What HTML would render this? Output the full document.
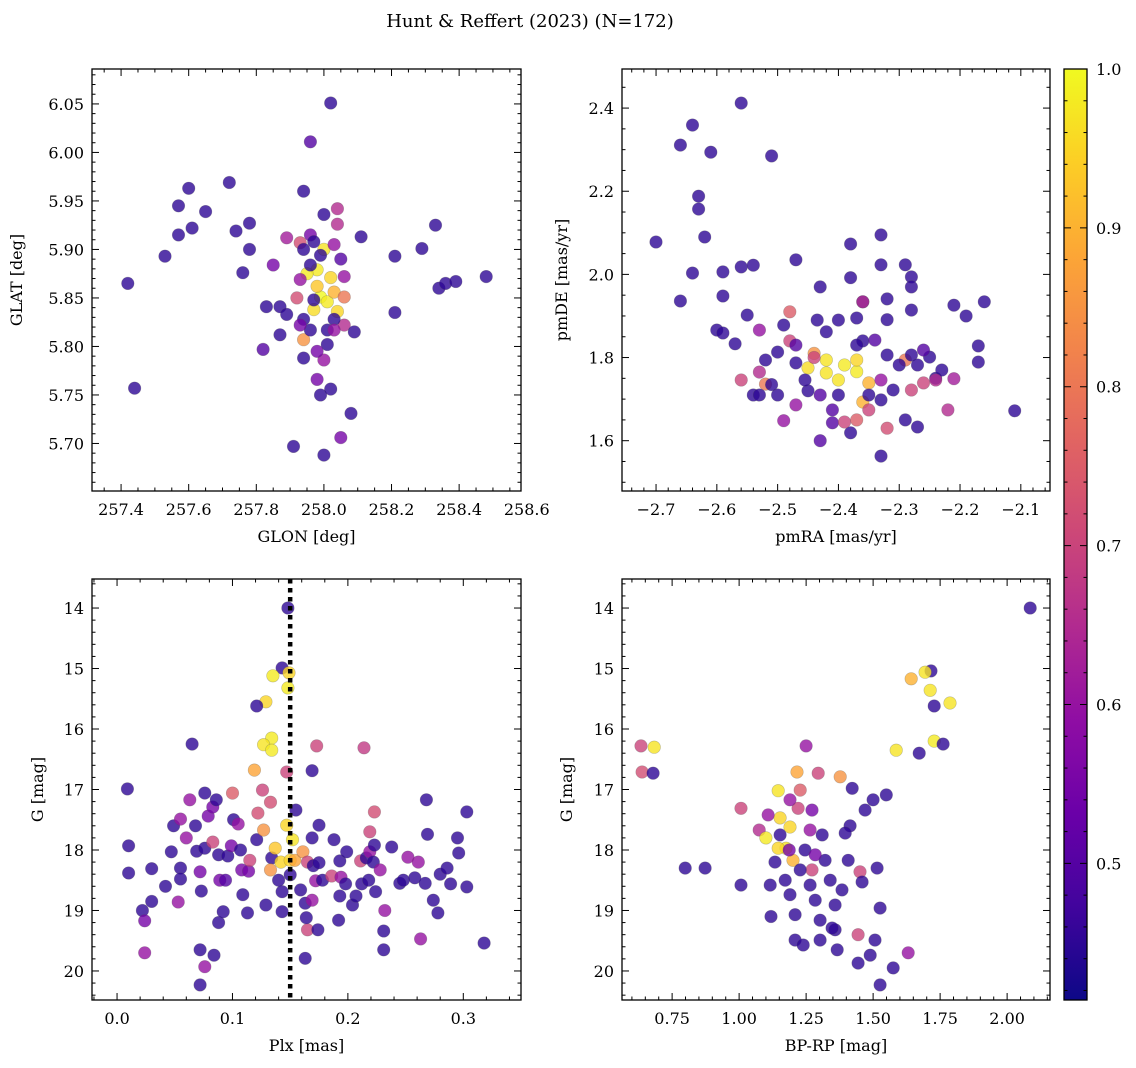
<!DOCTYPE html>
<html><head><meta charset="utf-8">
<style>
html,body{margin:0;padding:0;background:#fff;}
svg{display:block;font-family:"DejaVu Serif","Liberation Serif",serif;}
</style></head>
<body>
<svg id="fig" width="1136" height="1068" viewBox="0 0 1136 1068" xmlns="http://www.w3.org/2000/svg">
<text x="530" y="27" font-size="18" text-anchor="middle">Hunt &amp; Reffert (2023) (N=172)</text>
</svg>
<script>
// Panel 1: GLON, GLAT, probability
const p1Lon=[257.42,257.44,257.53,257.57,257.57,257.60,257.61,257.65,257.72,257.74,257.76,257.78,257.78,257.82,257.83,257.87,257.87,257.85,257.89,257.89,257.94,257.91,257.92,257.93,257.94,257.96,258.00,257.99,258.02,258.00,257.98,258.02,258.04,258.04,258.05,258.08,258.06,258.06,258.09,258.11,258.21,258.21,258.29,258.34,258.36,258.39,258.33,258.48,
258.00,257.98,258.02,257.99,258.01,257.97,258.04,257.98,257.95,258.03,258.06,257.94,
257.94,257.97,258.01,258.01,257.96,258.03,257.96,257.99,257.94,257.96,257.93,258.05,258.03,257.93,257.97,258.00,257.98,258.03];
const p1Lat=[5.865,5.757,5.893,5.915,5.945,5.963,5.922,5.939,5.969,5.919,5.876,5.927,5.900,5.797,5.841,5.841,5.812,5.884,5.912,5.833,5.960,5.697,5.850,5.907,5.788,6.011,5.688,5.750,6.051,5.936,5.766,5.756,5.926,5.942,5.706,5.731,5.872,5.822,5.815,5.913,5.835,5.893,5.901,5.860,5.865,5.867,5.925,5.872,
5.900,5.879,5.871,5.851,5.846,5.838,5.836,5.862,5.875,5.856,5.851,5.807,
5.828,5.848,5.802,5.817,5.817,5.828,5.884,5.894,5.900,5.915,5.822,5.890,5.905,5.869,5.908,5.786,5.795,5.817];
const p1Prob=[.45,.45,.45,.45,.45,.45,.45,.45,.45,.45,.45,.45,.45,.5,.45,.45,.45,.55,.62,.45,.45,.45,.72,.72,.45,.5,.45,.45,.45,.45,.55,.45,.65,.65,.55,.45,.6,.65,.45,.45,.45,.45,.45,.45,.45,.45,.45,.45,
.97,.98,.95,1,.98,.96,.95,.93,.98,.9,.8,.85,
.45,.45,.45,.45,.45,.45,.45,.45,.45,.55,.55,.5,.6,.6,.45,.6,.55,.6];

// Panel 2: pmRA, pmDE
const p2Ra=[-2.70,-2.66,-2.64,-2.56,-2.63,-2.63,-2.62,-2.61,-2.66,-2.64,-2.59,-2.59,-2.51,-2.56,-2.54,-2.60,-2.59,-2.57,-2.55,-2.47,-2.38,-2.33,-2.33,-2.29,-2.28,-2.28,-2.21,-2.16,-2.19,-2.17,-2.17,-2.11,-2.33,-2.38,-2.43,-2.41,-2.27,-2.29,-2.49,-2.45,-2.36,-2.42,-2.43,-2.38,-2.36,-2.32,-2.32,-2.28,-2.25,-2.24,-2.23,
-2.42,-2.39,-2.40,-2.37,-2.45,-2.37,-2.42,-2.36,-2.35,-2.44,
-2.48,-2.44,-2.53,-2.52,-2.47,-2.56,-2.39,-2.32,-2.28,-2.24,-2.22,-2.21,-2.36,-2.48,-2.53,-2.29,-2.26,-2.35,-2.37,-2.33,
-2.54,-2.52,-2.50,-2.47,-2.47,-2.455,-2.50,-2.43,-2.40,-2.35,-2.33,-2.30,-2.28,-2.26,-2.27,-2.31,-2.32,-2.34,-2.37,-2.40,-2.435,-2.49,-2.53,-2.51,-2.41,-2.37];
const p2De=[2.078,2.311,2.359,2.412,2.188,2.157,2.09,2.294,1.936,2.003,2.006,1.948,2.285,2.018,2.022,1.866,1.859,1.833,1.902,2.035,2.073,2.095,2.023,2.023,1.994,1.97,1.926,1.934,1.9,1.828,1.789,1.672,1.563,1.619,1.6,1.643,1.633,1.65,1.648,1.72,1.84,1.862,1.97,1.992,1.934,1.941,1.891,1.914,1.801,1.75,1.77,
1.794,1.782,1.746,1.766,1.775,1.794,1.763,1.693,1.739,1.81,
1.84,1.80,1.765,1.736,1.686,1.746,1.645,1.63,1.722,1.746,1.674,1.749,1.934,1.91,1.866,1.794,1.739,1.674,1.65,1.746,
1.71,1.794,1.813,1.83,1.787,1.746,1.71,1.71,1.71,1.71,1.698,1.782,1.806,1.818,1.782,1.722,1.806,1.842,1.895,1.89,1.89,1.878,1.71,1.735,1.674,1.83];
const p2Prob=[.45,.45,.45,.45,.45,.45,.45,.45,.45,.45,.45,.45,.45,.45,.45,.45,.45,.45,.45,.45,.45,.45,.45,.45,.45,.45,.45,.45,.45,.45,.45,.45,.45,.45,.5,.5,.45,.45,.6,.45,.45,.45,.45,.45,.45,.45,.45,.45,.45,.45,.45,
.97,.98,.97,.98,.96,.95,.97,.9,.9,.85,
.7,.7,.65,.8,.6,.7,.7,.72,.7,.65,.65,.62,.65,.75,.6,.8,.7,.7,.75,.6,
.45,.45,.45,.5,.45,.45,.45,.5,.45,.45,.45,.45,.45,.5,.45,.45,.45,.5,.45,.45,.45,.45,.45,.45,.5,.45];

// Panel 3: Plx, G
const p3Plx=[.148,.143,.149,.135,.148,.129,.121,.065,.134,.127,.134,.147,.119,.169,.009,.173,.214,.010,.010,.022,.024,.030,.024,.030,.042,.047,.049,.055,.055,.060,.053,.055,.063,.069,.068,.073,.072,.076,.079,.083,.083,.086,.076,.088,.089,.076,.072,.072,.084,.088,.092,.094,.096,.099,.101,.100,.105,.107,.108,.109,.113,.114,.115,.121,.122,.127,.126,.133,.129,.134,.133,.137,.142,.140,.143,.150,.152,.147,.155,.143,.154,.150,.161,.159,.165,.163,.169,.170,.172,.175,.175,.163,.165,.164,.169,.174,.178,.186,.188,.193,.193,.194,.199,.198,.204,.207,.192,.211,.212,.216,.219,.219,.223,.223,.222,.224,.218,.228,.232,.238,.245,.231,.231,.252,.248,.258,.261,.268,.269,.263,.267,.274,.280,.289,.278,.286,.295,.303,.303,.296,.318];
const p3G=[14.0,14.99,15.07,15.12,15.32,15.55,15.62,16.25,16.15,16.26,16.35,16.71,16.68,16.69,16.99,16.28,16.31,17.93,18.38,19.0,19.17,18.85,19.7,18.31,18.6,18.03,17.6,17.49,18.3,17.8,18.86,18.48,17.17,18.02,17.6,18.68,18.36,17.97,17.44,17.87,17.29,17.17,17.06,18.08,18.5,19.93,20.23,19.65,19.74,19.2,19.02,18.5,18.1,17.93,17.5,17.06,17.57,18.0,18.33,18.74,19.04,18.35,18.17,17.83,17.39,17.67,17.01,17.21,18.91,18.13,18.33,17.97,18.2,18.5,18.69,18.17,17.83,17.59,17.34,19.02,18.17,18.41,18.03,18.66,18.2,18.88,17.8,18.26,18.51,17.59,18.21,19.79,19.32,19.12,18.83,19.32,18.5,18.43,17.83,18.18,18.76,18.45,18.03,18.56,18.91,18.76,19.16,18.18,18.56,18.13,18.03,17.7,17.37,17.92,18.2,18.69,18.5,18.33,19.0,17.95,18.55,19.34,19.65,18.12,18.5,18.46,18.2,17.17,17.74,19.47,18.55,18.83,18.4,18.56,19.04,18.3,17.8,18.61,17.37,18.05,19.54];
const p3Prob=[.45,.45,.95,.98,.98,.95,.45,.45,.98,.97,.98,.7,.88,.45,.45,.7,.68,.45,.45,.45,.55,.45,.6,.45,.45,.45,.45,.6,.45,.6,.6,.45,.6,.45,.45,.45,.55,.45,.55,.7,.55,.45,.45,.45,.55,.6,.45,.45,.45,.45,.45,.5,.45,.55,.45,.75,.6,.45,.55,.45,.45,.55,.7,.45,.72,.85,.7,.72,.45,.45,.85,.93,.95,.45,.45,.95,.97,.95,.45,.45,.88,.45,.85,.45,.7,.45,.45,.45,.6,.45,.45,.45,.7,.45,.6,.45,.45,.7,.45,.45,.45,.6,.45,.45,.45,.45,.45,.7,.45,.45,.6,.7,.72,.45,.45,.45,.45,.6,.6,.45,.45,.45,.45,.6,.45,.45,.6,.45,.45,.6,.45,.45,.45,.45,.45,.45,.45,.45,.45,.45,.45];

// Panel 4: BP-RP, G
const p4Col=[2.086,1.716,1.694,1.713,1.728,1.787,1.642,1.586,1.728,1.761,1.672,1.549,1.422,1.5,1.47,1.414,1.396,.634,.683,.638,.679,.799,.873,1.007,1.007,1.075,1.119,
1.146,1.153,1.19,1.1,1.175,1.201,1.146,1.216,1.377,1.295,1.25,1.228,1.22,1.265,1.272,1.451,1.444,
1.153,1.134,1.116,1.172,1.19,1.209,1.228,1.246,1.265,1.284,1.302,1.321,1.34,1.358,1.358,1.384,1.209,1.239,1.302,1.347,1.407,1.459,1.515,1.526,1.507,1.489,1.526,1.575,1.444,1.366,1.631,1.187,1.284,1.19,1.108,1.272,1.31];
const p4G=[14.0,15.04,15.06,15.36,15.62,15.57,15.17,16.35,16.2,16.25,16.4,17.09,16.98,17.17,17.34,17.6,17.72,16.28,16.3,16.71,16.73,18.3,18.3,17.31,18.58,17.67,19.1,
17.02,17.47,17.62,17.8,17.97,18.17,17.97,16.71,16.79,16.73,16.28,17.01,17.31,17.67,18.33,18.36,19.4,
17.75,18.2,18.58,18.5,18.74,19.07,18.33,18.0,18.58,18.83,19.16,18.17,18.5,18.91,19.32,18.66,19.49,19.57,19.49,19.29,18.17,18.53,18.3,18.96,19.49,19.74,20.23,19.95,19.87,19.65,19.7,18.0,18.08,17.17,17.42,17.34,17.75];
const p4Prob=[.45,.45,.97,.97,.45,.97,.9,.97,.98,.45,.45,.45,.45,.45,.45,.45,.45,.7,.97,.72,.45,.45,.45,.7,.45,.65,.45,
.97,.95,.95,.98,.97,.9,.95,.88,.85,.7,.6,.75,.7,.6,.7,.7,.7,
.45,.45,.45,.45,.45,.45,.45,.45,.45,.45,.45,.45,.45,.45,.45,.45,.45,.45,.45,.45,.45,.45,.45,.45,.45,.45,.45,.45,.45,.45,.6,.55,.55,.6,.6,.55,.45];

const cbTicks=[0.5,0.6,0.7,0.8,0.9,1.0];
const pMin=0.414, pMax=1.0;
const plxCut=0.15;

const NS='http://www.w3.org/2000/svg';
const svg=document.getElementById('fig');
function mk(tag,attrs,parent){const e=document.createElementNS(NS,tag);for(const k in attrs)e.setAttribute(k,attrs[k]);(parent||svg).appendChild(e);return e;}
const stops=['#0d0887','#41049d','#6a00a8','#8f0da4','#b12a90','#cc4778','#e16462','#f2844b','#fca636','#fcce25','#f0f921'];
function hex(h){return [1,3,5].map(i=>parseInt(h.substr(i,2),16));}
function plasma(t){t=Math.max(0,Math.min(1,t));const f=t*10,i=Math.min(9,Math.floor(f)),r=f-i;const a=hex(stops[i]),b=hex(stops[i+1]);return 'rgb('+a.map((v,k)=>Math.round(v+(b[k]-v)*r)).join(',')+')';}
function pc(p){return plasma((p-pMin)/(pMax-pMin));}
function fmtMinus(s){return s.replace('-','\u2212');}

function panel(o){
  const g=mk('g',{});
  
  
  const X=v=>o.x0+(v-o.xd[0])/(o.xd[1]-o.xd[0])*(o.x1-o.x0);
  const Y=v=>o.inv? o.y0+(v-o.yd[0])/(o.yd[1]-o.yd[0])*(o.y1-o.y0) : o.y1-(v-o.yd[0])/(o.yd[1]-o.yd[0])*(o.y1-o.y0);
  const pg=mk('g',{},g);
  
  
  for(let i=0;i<o.xs.length;i++){
    const c=mk('circle',{cx:X(o.xs[i]).toFixed(1),cy:Y(o.ys[i]).toFixed(1),r:6.3,fill:pc(o.ps[i]),'fill-opacity':0.8,stroke:'#555','stroke-opacity':0.35,'stroke-width':0.6},pg);
    
    
  }
  if(o.extra)o.extra(g,X,Y);
  const fr=mk('rect',{x:o.x0,y:o.y0,width:o.x1-o.x0,height:o.y1-o.y0,fill:'none',stroke:'#000','stroke-width':1.3},g);
  
  
  const ep=1e-9;
  for(let v=Math.ceil(o.xd[0]/o.xmin-ep)*o.xmin;v<=o.xd[1]+ep;v+=o.xmin){
    const isMaj=Math.abs(v/o.xmaj-Math.round(v/o.xmaj))<1e-6;const L=isMaj?7:3.5;const px=X(v);
    mk('line',{x1:px,x2:px,y1:o.y1,y2:o.y1-L,stroke:'#000','stroke-width':1},g);
    mk('line',{x1:px,x2:px,y1:o.y0,y2:o.y0+L,stroke:'#000','stroke-width':1},g);
  }
  for(const v of o.xt){const t=mk('text',{x:X(v),y:o.y1+24,'font-size':16,'text-anchor':'middle'},g);t.textContent=fmtMinus(v.toFixed(o.xf));
    }
  for(let v=Math.ceil(o.yd[0]/o.ymin-ep)*o.ymin;v<=o.yd[1]+ep;v+=o.ymin){
    const isMaj=Math.abs(v/o.ymaj-Math.round(v/o.ymaj))<1e-6;const L=isMaj?7:3.5;const py=Y(v);
    mk('line',{x1:o.x0,x2:o.x0+L,y1:py,y2:py,stroke:'#000','stroke-width':1},g);
    mk('line',{x1:o.x1,x2:o.x1-L,y1:py,y2:py,stroke:'#000','stroke-width':1},g);
  }
  for(const v of o.yt){const t=mk('text',{x:o.x0-8,y:Y(v)+6,'font-size':16,'text-anchor':'end'},g);t.textContent=fmtMinus(v.toFixed(o.yf));
    }
  const xl=mk('text',{x:(o.x0+o.x1)/2,y:o.y1+51,'font-size':16,'text-anchor':'middle'},g);xl.textContent=o.xlab;
  
  const yl=mk('text',{x:0,y:0,'font-size':16,'text-anchor':'middle',transform:'translate('+o.ylx+','+((o.y0+o.y1)/2)+') rotate(-90)'},g);yl.textContent=o.ylab;
  
}
function rng(a,b,s){const r=[];for(let v=a;v<=b+1e-9;v+=s)r.push(Math.round(v*1000)/1000);return r;}

panel({name:'glon-glat-panel',x0:92,x1:521,y0:69,y1:491,xd:[257.314,258.583],yd:[5.651,6.086],xs:p1Lon,ys:p1Lat,ps:p1Prob,
 xmaj:0.2,xmin:0.05,ymaj:0.05,ymin:0.01,xt:rng(257.4,258.6,0.2),yt:rng(5.70,6.05,0.05),xf:1,yf:2,xlab:'GLON [deg]',ylab:'GLAT [deg]',ylx:22});
panel({name:'pm-panel',x0:622,x1:1050,y0:69,y1:491,xd:[-2.756,-2.052],yd:[1.479,2.494],xs:p2Ra,ys:p2De,ps:p2Prob,
 xmaj:0.1,xmin:0.02,ymaj:0.2,ymin:0.05,xt:rng(-2.7,-2.1,0.1),yt:rng(1.6,2.4,0.2),xf:1,yf:1,xlab:'pmRA [mas/yr]',ylab:'pmDE [mas/yr]',ylx:567});
panel({name:'plx-g-panel',x0:92,x1:521,y0:579,y1:1000,xd:[-0.0217,0.350],yd:[13.52,20.48],inv:true,xs:p3Plx,ys:p3G,ps:p3Prob,
 xmaj:0.1,xmin:0.02,ymaj:1,ymin:0.2,xt:rng(0,0.3,0.1),yt:rng(14,20,1),xf:1,yf:0,xlab:'Plx [mas]',ylab:'G [mag]',ylx:43,
 extra:(g,X,Y)=>{const l=mk('line',{x1:X(plxCut),x2:X(plxCut),y1:579,y2:1000,stroke:'#000','stroke-width':4.5,'stroke-dasharray':'4.5,4.5'},g);
   }});
panel({name:'cmd-panel',x0:622,x1:1050,y0:579,y1:1000,xd:[0.563,2.160],yd:[13.52,20.48],inv:true,xs:p4Col,ys:p4G,ps:p4Prob,
 xmaj:0.25,xmin:0.05,ymaj:1,ymin:0.2,xt:rng(0.75,2.0,0.25),yt:rng(14,20,1),xf:2,yf:0,xlab:'BP-RP [mag]',ylab:'G [mag]',ylx:572});

const cb=mk('g',{});


const defs=mk('defs',{},cb);
const lg=mk('linearGradient',{id:'cbg',x1:0,y1:1,x2:0,y2:0},defs);
for(let i=0;i<=20;i++){const t=i/20;mk('stop',{offset:t,'stop-color':plasma(t)},lg);}
const cbx0=1064,cbx1=1087,cby0=69,cby1=1000;
mk('rect',{x:cbx0,y:cby0,width:cbx1-cbx0,height:cby1-cby0,fill:'url(#cbg)',stroke:'#000','stroke-width':1.3},cb);
const CY=v=>cby1-(v-pMin)/(pMax-pMin)*(cby1-cby0);
for(let v=0.42;v<=1.0001;v+=0.02){const maj=Math.abs(v*10-Math.round(v*10))<1e-6;const L=maj?7:3.5;
  mk('line',{x1:cbx1,x2:cbx1-L,y1:CY(v),y2:CY(v),stroke:'#000','stroke-width':1},cb);
  mk('line',{x1:cbx0,x2:cbx0+L,y1:CY(v),y2:CY(v),stroke:'#000','stroke-width':1},cb);}
for(const v of cbTicks){const t=mk('text',{x:cbx1+9,y:CY(v)+6,'font-size':16},cb);t.textContent=v.toFixed(1);
  }
</script>
</body></html>
